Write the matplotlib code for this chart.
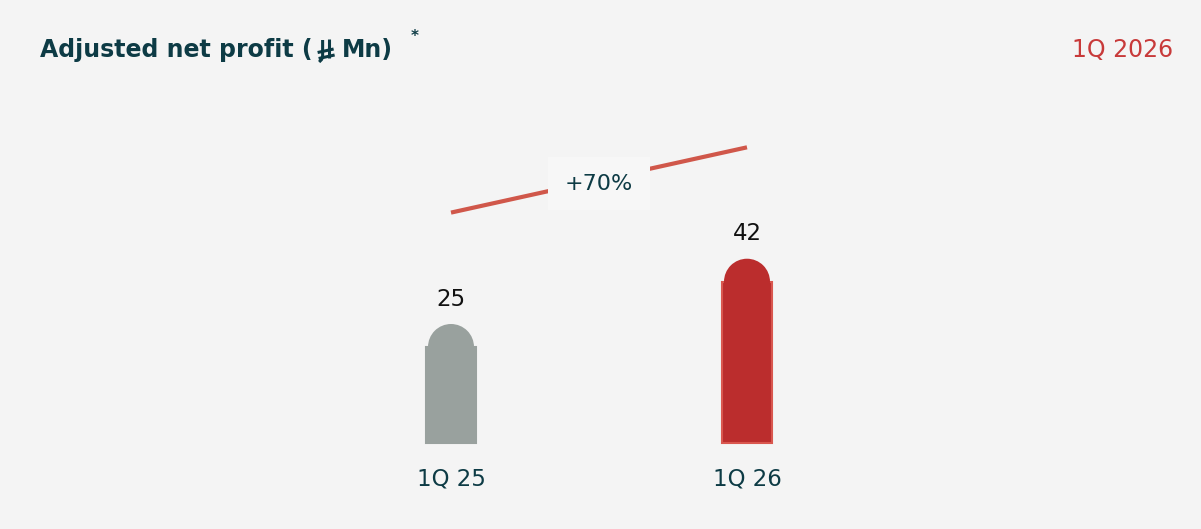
import matplotlib
matplotlib.use("Agg")
import matplotlib.pyplot as plt
from matplotlib.patches import Rectangle, Ellipse
from matplotlib.lines import Line2D

categories = ["1Q 25", "1Q 26"]
values = [25, 42]
bar_colors = ["#99a19e", "#bb2d2d"]
edge_colors = ["#99a19e", "#d9574f"]
growth_label = "+70%"
title = "Adjusted net profit ("
title_end = "Mn)"
period = "1Q 2026"

BG = "#f4f4f4"
DARK = "#0d3b45"
FONT = "DejaVu Sans"

W, H = 1201, 529
fig = plt.figure(figsize=(W / 100, H / 100), dpi=100, facecolor=BG)
ax = fig.add_axes([0, 0, 1, 1])
ax.set_facecolor(BG)
ax.set_axis_off()

# pixel mapping: category 0 at x=451px, 1 at 747px; value 0 at y=443px, 3.84 px/unit
px_per_x = 296.0
px_per_y = 3.84
ax.set_xlim(-451 / px_per_x, (W - 451) / px_per_x)
ax.set_ylim(-(H - 443) / px_per_y, 443 / px_per_y)

bar_w = 50 / px_per_x
cap_w = 46 / px_per_x
cap_h = 46 / px_per_y
for i, (v, c, ec) in enumerate(zip(values, bar_colors, edge_colors)):
    ax.add_patch(Rectangle((i - bar_w / 2, 0), bar_w, v, facecolor=c,
                           edgecolor=ec, linewidth=1.5, zorder=2))
    ax.add_patch(Ellipse((i, v), cap_w, cap_h, facecolor=c, edgecolor="none", zorder=3))
    ax.text(i, v + cap_h / 2 + 25 / px_per_y, str(v), ha="center", va="center",
            fontsize=16.5, color="#111111", family=FONT)
    ax.text(i, -36 / px_per_y, categories[i], ha="center", va="center",
            fontsize=16.5, color=DARK, family=FONT)

# growth line (offset above bars)
line_y = [values[0] + 35, values[1] + 35]
ax.plot([0, 1], line_y, color="#d0574a", linewidth=3, zorder=2, solid_capstyle="butt")
ax.text(0.5, (line_y[0] + line_y[1]) / 2 - 1, growth_label, ha="center", va="center",
        fontsize=16, color=DARK, family=FONT, zorder=4,
        bbox=dict(boxstyle="square,pad=0.75", facecolor="#f7f7f7", edgecolor="none"))

# title
t1 = fig.text(40 / W, 1 - 50 / H, title, ha="left", va="center", fontsize=17,
              fontweight="bold", color=DARK, family=FONT)
fig.canvas.draw()
r = fig.canvas.get_renderer()
bb = t1.get_window_extent(r)
x0 = bb.x1 + 5  # left edge of the riyal sign, pixels


def L(xs, ys, lw=2.2):
    # xs relative to x0, ys in pixels from the top
    fig.add_artist(Line2D([(x0 + x) / W for x in xs], [1 - y / H for y in ys],
                          color=DARK, linewidth=lw, solid_capstyle="butt",
                          solid_joinstyle="round"))


# Saudi riyal sign drawn with strokes
L([5, 5, 4, 1.5], [40, 56, 59.5, 62])
L([11, 11], [39, 58])
L([0, 16], [52.5, 49])
L([1, 17], [58.5, 55])
fig.text((x0 + 24) / W, 1 - 50 / H, title_end, ha="left", va="center", fontsize=17,
         fontweight="bold", color=DARK, family=FONT)
fig.text(415 / W, 1 - 36 / H, "*", ha="center", va="center", fontsize=11,
         fontweight="bold", color=DARK, family=FONT)

fig.text(1173 / W, 1 - 50 / H, period, ha="right", va="center", fontsize=17,
         color="#c83a3a", family=FONT)

fig.savefig("out.png", dpi=100, facecolor=BG)
